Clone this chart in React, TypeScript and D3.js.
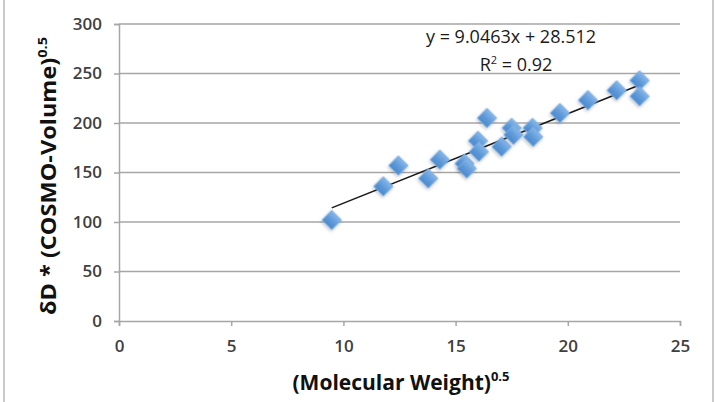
import React, { useEffect, useRef } from 'react';
import * as d3 from 'd3';

// (Molecular Weight)^0.5 vs δD * (COSMO-Volume)^0.5
const molWeightRoot = [
  9.48, 11.78, 12.45, 13.78, 14.3, 15.4, 15.5, 16.0, 16.04, 16.4,
  17.05, 17.5, 17.58, 18.43, 18.46, 19.65, 20.9, 22.18, 23.2, 23.2,
];
const deltaDVolume = [
  102, 136, 157, 144, 163, 159, 154, 182, 171, 205,
  176, 195, 188, 195, 186, 210, 223, 233, 243, 227,
];

const xTicks = [0, 5, 10, 15, 20, 25];
const yTicks = [0, 50, 100, 150, 200, 250, 300];

// linear fit reported on the chart
const slope = 9.0463;
const intercept = 28.512;
const rSquared = 0.92;

const App: React.FC = () => {
  const svgRef = useRef<SVGSVGElement>(null);

  useEffect(() => {
    if (!svgRef.current) return;
    const svg = d3.select(svgRef.current);
    svg.selectAll('*').remove();

    const width = 716;
    const height = 402;
    const margin = { top: 24, right: 36, bottom: 81, left: 119 };
    const font = "'Open Sans', 'DejaVu Sans', sans-serif";

    const x = d3.scaleLinear().domain([0, 25]).range([margin.left, width - margin.right]);
    const y = d3.scaleLinear().domain([0, 300]).range([height - margin.bottom, margin.top]);

    svg.append('rect').attr('width', width).attr('height', height).attr('fill', '#fff');

    // frame edges
    svg.append('line').attr('x1', 4).attr('x2', 4).attr('y1', 0).attr('y2', height)
      .attr('stroke', '#b8b8b8').attr('stroke-width', 1.5);
    svg.append('line').attr('x1', 713).attr('x2', 713).attr('y1', 0).attr('y2', height)
      .attr('stroke', '#b8b8b8').attr('stroke-width', 1.5);

    const defs = svg.append('defs');
    const grad = defs.append('linearGradient').attr('id', 'dia').attr('x1', 0).attr('y1', 0).attr('x2', 0).attr('y2', 1);
    grad.append('stop').attr('offset', '0%').attr('stop-color', '#86b6e8');
    grad.append('stop').attr('offset', '55%').attr('stop-color', '#5e9ad9');
    grad.append('stop').attr('offset', '100%').attr('stop-color', '#4b88cc');
    const shadow = defs.append('filter').attr('id', 'shadow').attr('x', '-50%').attr('y', '-50%').attr('width', '200%').attr('height', '200%');
    shadow.append('feDropShadow').attr('dx', 0.5).attr('dy', 1.5).attr('stdDeviation', 1.5)
      .attr('flood-color', '#000').attr('flood-opacity', 0.25);

    // gridlines
    svg.append('g').selectAll('line').data(yTicks.filter((t) => t > 0)).enter().append('line')
      .attr('x1', x(0)).attr('x2', x(25))
      .attr('y1', (d) => y(d)).attr('y2', (d) => y(d))
      .attr('stroke', '#a6a6a6').attr('stroke-width', 1.5);

    // axes
    const yAxis = svg.append('g').attr('transform', `translate(${x(0)},0)`)
      .call(d3.axisLeft(y).tickValues(yTicks).tickSize(5).tickPadding(12));
    const xAxis = svg.append('g').attr('transform', `translate(0,${y(0)})`)
      .call(d3.axisBottom(x).tickValues(xTicks).tickSize(5).tickPadding(14));
    [xAxis, yAxis].forEach((ax) => {
      ax.select('.domain').attr('stroke', '#a6a6a6').attr('stroke-width', 1.5);
      ax.selectAll('.tick line').attr('stroke', '#a6a6a6').attr('stroke-width', 1.5);
      ax.selectAll('.tick text').attr('fill', '#404040').attr('font-family', font)
        .attr('font-size', 17).attr('font-weight', 600);
    });

    // trend line over the data range
    const [xMin, xMax] = d3.extent(molWeightRoot) as [number, number];
    svg.append('path')
      .datum([xMin, xMax])
      .attr('fill', 'none').attr('stroke', '#1a1a1a').attr('stroke-width', 1.6)
      .attr('d', d3.line<number>().x((d) => x(d)).y((d) => y(slope * d + intercept)));

    // diamond markers
    const diamond = d3.symbol().type(d3.symbolSquare).size(190)();
    svg.append('g').selectAll('path').data(molWeightRoot).enter().append('path')
      .attr('d', diamond)
      .attr('transform', (d, i) => `translate(${x(d)},${y(deltaDVolume[i])}) rotate(45)`)
      .attr('fill', 'url(#dia)')
      .attr('stroke', '#7fb0e3').attr('stroke-width', 0.8)
      .attr('filter', 'url(#shadow)');

    // fit equation
    const eq = svg.append('g').attr('font-family', font).attr('font-size', 18).attr('fill', '#1a1a1a')
      .attr('text-anchor', 'middle');
    eq.append('text').attr('x', 511).attr('y', 43).text(`y = ${slope}x + ${intercept}`);
    const r2 = eq.append('text').attr('x', 516).attr('y', 71);
    r2.append('tspan').text('R');
    r2.append('tspan').attr('font-size', 11).attr('dy', -7).text('2');
    r2.append('tspan').attr('dy', 7).text(` = ${rSquared}`);

    // axis titles
    const xt = svg.append('text').attr('x', 401).attr('y', 390)
      .attr('text-anchor', 'middle').attr('font-family', font).attr('font-weight', 700)
      .attr('font-size', 21).attr('fill', '#111');
    xt.append('tspan').text('(Molecular Weight)');
    xt.append('tspan').attr('font-size', 13).attr('dy', -9).text('0.5');

    const yt = svg.append('text').attr('transform', 'translate(56,176) rotate(-90) scale(1.12,1)')
      .attr('text-anchor', 'middle').attr('font-family', font).attr('font-weight', 700)
      .attr('font-size', 21).attr('fill', '#111');
    yt.append('tspan').text('δD * (COSMO-Volume)');
    yt.append('tspan').attr('font-size', 13).attr('dy', -9).text('0.5');
  }, []);

  return (
    <div style={{ position: 'absolute', left: 0, top: 0 }}>
      <svg ref={svgRef} width={716} height={402} style={{ display: 'block' }} />
    </div>
  );
};

export default App;
